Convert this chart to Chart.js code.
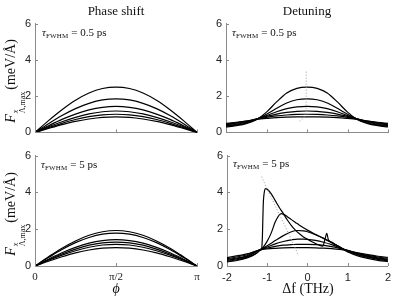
<!DOCTYPE html>
<html><head><meta charset="utf-8">
<script src="https://cdn.jsdelivr.net/npm/chart.js@4/dist/chart.umd.min.js"></script>
<style>
html,body{margin:0;padding:0;background:#fff;}
#wrap{position:relative;width:407px;height:305px;overflow:hidden;}
canvas{position:absolute;}
.t{position:absolute;font-family:'Liberation Serif','Times New Roman',serif;color:#111;white-space:nowrap;}
.ttl{font-size:13px;text-align:center;line-height:16px;}
.ann{font-size:11px;line-height:13px;}
.ann sub{font-size:7px;vertical-align:-2px;letter-spacing:0.2px;}
.ylab{font-size:14px;transform:translate(-50%,-50%) rotate(-90deg);line-height:16px;}
.ss{display:inline-flex;flex-direction:column;align-items:flex-start;font-size:8px;line-height:7px;vertical-align:-3px;margin-left:1px;margin-right:2px;}
.xl{font-size:14px;transform:translate(-50%,-50%);}
</style></head>
<body><div id="wrap">
<canvas id="c1" width="205" height="130" style="left:0;top:13px"></canvas>
<canvas id="c2" width="196" height="130" style="left:200px;top:13px"></canvas>
<canvas id="c3" width="205" height="140" style="left:0;top:145px"></canvas>
<canvas id="c4" width="196" height="140" style="left:200px;top:145px"></canvas>
<div class="t ttl" style="left:35px;width:162px;top:3px">Phase shift</div>
<div class="t ttl" style="left:226px;width:162px;top:3px">Detuning</div>
<div class="t ann" style="left:42px;top:26px"><i>τ</i><sub>FWHM</sub> = 0.5 ps</div>
<div class="t ann" style="left:232px;top:26px"><i>τ</i><sub>FWHM</sub> = 0.5 ps</div>
<div class="t ann" style="left:41px;top:158px"><i>τ</i><sub>FWHM</sub> = 5 ps</div>
<div class="t ann" style="left:233px;top:157px"><i>τ</i><sub>FWHM</sub> = 5 ps</div>
<div class="t ylab" style="left:14px;top:81px"><i>F</i><span class="ss"><span><i>x</i></span><span>Λ,max</span></span>(meV/Å)</div>
<div class="t ylab" style="left:14px;top:214px"><i>F</i><span class="ss"><span><i>x</i></span><span>Λ,max</span></span>(meV/Å)</div>
<div class="t xl" style="left:116px;top:289px"><i>ϕ</i></div>
<div class="t xl" style="left:308px;top:289px">Δf (THz)</div>
</div>
<script>
// ---------- data ----------
const phiPts = [0, 0.2618, 0.5236, 0.7854, 1.0472, 1.3090, 1.5708, 1.8326, 2.0944, 2.3562, 2.6180, 2.8798, 3.1416];
const phiTicks = [0, 1.5708, 3.1416];
const phiTickLabels = ['0', 'π/2', 'π'];

const phaseShort1 = [0, 0.65, 1.25, 1.77, 2.17, 2.42, 2.5, 2.42, 2.17, 1.77, 1.25, 0.65, 0];
const phaseShort2 = [0, 0.48, 0.93, 1.31, 1.6, 1.79, 1.85, 1.79, 1.6, 1.31, 0.93, 0.48, 0];
const phaseShort3 = [0, 0.37, 0.72, 1.01, 1.24, 1.38, 1.43, 1.38, 1.24, 1.01, 0.72, 0.37, 0];
const phaseShort4 = [0, 0.31, 0.59, 0.83, 1.02, 1.14, 1.18, 1.14, 1.02, 0.83, 0.59, 0.31, 0];
const phaseShort5 = [0, 0.26, 0.5, 0.71, 0.87, 0.97, 1.0, 0.97, 0.87, 0.71, 0.5, 0.26, 0];
const phaseShort6 = [0, 0.22, 0.43, 0.61, 0.74, 0.83, 0.86, 0.83, 0.74, 0.61, 0.43, 0.22, 0];

const phaseLong1 = [0, 0.5, 0.97, 1.36, 1.67, 1.86, 1.93, 1.86, 1.67, 1.36, 0.97, 0.5, 0];
const phaseLong2 = [0, 0.46, 0.9, 1.27, 1.55, 1.73, 1.79, 1.73, 1.55, 1.27, 0.9, 0.46, 0];
const phaseLong3 = [0, 0.37, 0.72, 1.01, 1.24, 1.38, 1.43, 1.38, 1.24, 1.01, 0.72, 0.37, 0];
const phaseLong4 = [0, 0.34, 0.65, 0.92, 1.13, 1.26, 1.30, 1.26, 1.13, 0.92, 0.65, 0.34, 0];
const phaseLong5 = [0, 0.31, 0.59, 0.83, 1.02, 1.14, 1.18, 1.14, 1.02, 0.83, 0.59, 0.31, 0];
const phaseLong6 = [0, 0.26, 0.5, 0.71, 0.87, 0.97, 1.0, 0.97, 0.87, 0.71, 0.5, 0.26, 0];

const dfPts = [-2, -1.75, -1.5, -1.25, -1, -0.75, -0.5, -0.25, 0, 0.25, 0.5, 0.75, 1, 1.25, 1.5, 1.75, 2];
const dfTicks = [-2, -1, 0, 1, 2];
const detShort1 = [0.3, 0.37, 0.48, 0.7, 1.12, 1.68, 2.17, 2.43, 2.5, 2.43, 2.17, 1.68, 1.12, 0.7, 0.48, 0.37, 0.3];
const detShort2 = [0.34, 0.41, 0.52, 0.72, 1.0, 1.33, 1.62, 1.8, 1.85, 1.8, 1.62, 1.33, 1.0, 0.72, 0.52, 0.41, 0.34];
const detShort3 = [0.38, 0.45, 0.56, 0.73, 0.93, 1.14, 1.31, 1.41, 1.43, 1.41, 1.31, 1.14, 0.93, 0.73, 0.56, 0.45, 0.38];
const detShort4 = [0.42, 0.49, 0.59, 0.73, 0.88, 1.01, 1.1, 1.16, 1.18, 1.16, 1.1, 1.01, 0.88, 0.73, 0.59, 0.49, 0.42];
const detShort5 = [0.46, 0.53, 0.62, 0.73, 0.83, 0.91, 0.96, 0.99, 1.0, 0.99, 0.96, 0.91, 0.83, 0.73, 0.62, 0.53, 0.46];
const detShort6 = [0.5, 0.56, 0.63, 0.71, 0.77, 0.82, 0.845, 0.858, 0.86, 0.858, 0.845, 0.82, 0.77, 0.71, 0.63, 0.56, 0.5];
const peakShortDf = [-0.02, -0.02, -0.06, -0.12, -0.2];
const peakShortF  = [3.35, 1.1, 0.9, 0.72, 0.58];

const detLong1Df = [-2, -1.75, -1.5, -1.3, -1.18, -1.14, -1.12, -1.1, -1.07, -1.04, -1.0, -0.9, -0.8, -0.7, -0.6, -0.5, -0.4, -0.3, -0.2, -0.1, 0, 0.1, 0.2, 0.3, 0.38, 0.44, 0.48, 0.52, 0.6, 0.7, 0.8, 0.9, 1.0, 1.25, 1.5, 1.75, 2];
const detLong1   = [0.22, 0.3, 0.44, 0.64, 0.84, 0.92, 1.6, 3.3, 4.05, 4.2, 4.17, 3.92, 3.55, 3.18, 2.85, 2.5, 2.2, 1.95, 1.75, 1.58, 1.45, 1.33, 1.22, 1.12, 1.08, 1.5, 1.77, 1.42, 1.3, 1.15, 1.02, 0.88, 0.76, 0.55, 0.41, 0.31, 0.24];
const detLong2Df = [-2, -1.75, -1.5, -1.25, -1.18, -1.1, -1.0, -0.9, -0.8, -0.7, -0.65, -0.6, -0.5, -0.4, -0.3, -0.2, -0.1, 0, 0.2, 0.4, 0.6, 0.8, 0.9, 1.0, 1.25, 1.5, 1.75, 2];
const detLong2   = [0.26, 0.34, 0.48, 0.72, 0.86, 1.02, 1.35, 1.8, 2.4, 2.78, 2.85, 2.82, 2.68, 2.52, 2.37, 2.22, 2.08, 1.95, 1.72, 1.5, 1.28, 1.04, 0.9, 0.8, 0.6, 0.46, 0.36, 0.28];
const detLongDf  = [-2, -1.5, -1.2, -1.0, -0.8, -0.6, -0.4, -0.25, -0.1, 0, 0.2, 0.4, 0.6, 0.8, 0.9, 1.0, 1.25, 1.5, 1.75, 2];
const detLong3   = [0.3, 0.52, 0.86, 1.1, 1.38, 1.65, 1.86, 1.93, 1.91, 1.86, 1.7, 1.5, 1.27, 1.03, 0.91, 0.81, 0.63, 0.5, 0.4, 0.33];
const detLong4   = [0.35, 0.56, 0.87, 1.03, 1.2, 1.33, 1.42, 1.46, 1.46, 1.45, 1.39, 1.29, 1.16, 1.0, 0.92, 0.84, 0.67, 0.54, 0.44, 0.37];
const detLong5   = [0.4, 0.61, 0.87, 0.98, 1.07, 1.13, 1.16, 1.18, 1.18, 1.18, 1.16, 1.12, 1.05, 0.96, 0.9, 0.85, 0.7, 0.58, 0.49, 0.42];
const detLong6   = [0.46, 0.66, 0.87, 0.93, 0.96, 0.98, 0.995, 1.0, 1.0, 1.0, 0.99, 0.97, 0.94, 0.9, 0.87, 0.83, 0.72, 0.62, 0.53, 0.47];
const peakLongDf = [-1.14, -0.95, -0.7, -0.45, -0.22];
const peakLongF  = [4.85, 3.95, 2.8, 1.68, 0.56];

const yTicks = [0, 2, 4, 6];

// ---------- helpers ----------
const AXIS = '#8a8a8a';
const pts = (xs, ys) => xs.map((x, i) => ({x: x, y: ys[i]}));
const line = (xs, ys) => ({data: pts(xs, ys), borderColor: '#000', borderWidth: 1.2, pointRadius: 0, fill: false, cubicInterpolationMode: 'monotone'});
const dotted = (xs, ys) => ({data: pts(xs, ys), borderColor: '#9a9a9a', borderWidth: 1, borderDash: [1, 2], pointRadius: 0, fill: false, tension: 0});

const inTicks = {
  id: 'inTicks',
  afterDraw(chart) {
    const ctx = chart.ctx, a = chart.chartArea;
    ctx.save();
    ctx.strokeStyle = AXIS; ctx.lineWidth = 1;
    const xs = chart.scales.x, ys = chart.scales.y;
    xs.ticks.forEach(t => { const p = Math.round(xs.getPixelForValue(t.value)) + 0.5; ctx.beginPath(); ctx.moveTo(p, a.bottom); ctx.lineTo(p, a.bottom - 3); ctx.stroke(); });
    ys.ticks.forEach(t => { const p = Math.round(ys.getPixelForValue(t.value)) + 0.5; ctx.beginPath(); ctx.moveTo(a.left, p); ctx.lineTo(a.left + 3, p); ctx.stroke(); });
    ctx.restore();
  }
};

function make(id, datasets, o) {
  new Chart(document.getElementById(id), {
    type: 'line',
    data: {datasets: datasets},
    plugins: [inTicks],
    options: {
      responsive: false, animation: false, devicePixelRatio: 1,
      layout: {padding: {left: 0, right: 8, top: 10, bottom: 0}},
      plugins: {legend: {display: false}, tooltip: {enabled: false}},
      scales: {
        x: {
          type: 'linear', min: o.xmin, max: o.xmax,
          afterBuildTicks: s => { s.ticks = o.xticks.map(v => ({value: v})); },
          afterFit: s => { s.height = o.xh; },
          grid: {display: true, drawOnChartArea: false, drawTicks: false},
          border: {display: true, color: AXIS, width: 1},
          ticks: {display: o.xlab, padding: 5, color: '#222', maxRotation: 0, autoSkip: false,
                  font: {family: o.xfont, size: 11},
                  callback: o.xcb}
        },
        y: {
          min: 0, max: 6,
          afterBuildTicks: s => { s.ticks = yTicks.map(v => ({value: v})); },
          afterFit: s => { s.width = o.yw; },
          grid: {display: true, drawOnChartArea: false, drawTicks: false},
          border: {display: true, color: AXIS, width: 1},
          ticks: {padding: 4, color: '#222', font: {family: "'Liberation Sans', Arial, sans-serif", size: 11}}
        }
      }
    }
  });
}

const phiCb = v => { const i = phiTicks.indexOf(v); return i >= 0 ? phiTickLabels[i] : ''; };
const dfCb = v => String(v);

make('c1', [phaseShort1, phaseShort2, phaseShort3, phaseShort4, phaseShort5, phaseShort6].map(ys => line(phiPts, ys)),
  {xmin: 0, xmax: 3.1416, xticks: phiTicks, xh: 10, xlab: false, yw: 35, xfont: "'Liberation Serif', serif", xcb: phiCb});
make('c2', [dotted(peakShortDf, peakShortF)].concat([detShort1, detShort2, detShort3, detShort4, detShort5, detShort6].map(ys => line(dfPts, ys))),
  {xmin: -2, xmax: 2, xticks: dfTicks, xh: 10, xlab: false, yw: 26, xfont: "'Liberation Sans', Arial, sans-serif", xcb: dfCb});
make('c3', [phaseLong1, phaseLong2, phaseLong3, phaseLong4, phaseLong5, phaseLong6].map(ys => line(phiPts, ys)),
  {xmin: 0, xmax: 3.1416, xticks: phiTicks, xh: 19, xlab: true, yw: 35, xfont: "'Liberation Serif', serif", xcb: phiCb});
make('c4', [dotted(peakLongDf, peakLongF), line(detLong1Df, detLong1), line(detLong2Df, detLong2)].concat([detLong3, detLong4, detLong5, detLong6].map(ys => line(detLongDf, ys))),
  {xmin: -2, xmax: 2, xticks: dfTicks, xh: 19, xlab: true, yw: 27, xfont: "'Liberation Sans', Arial, sans-serif", xcb: dfCb});
</script>
</body></html>
